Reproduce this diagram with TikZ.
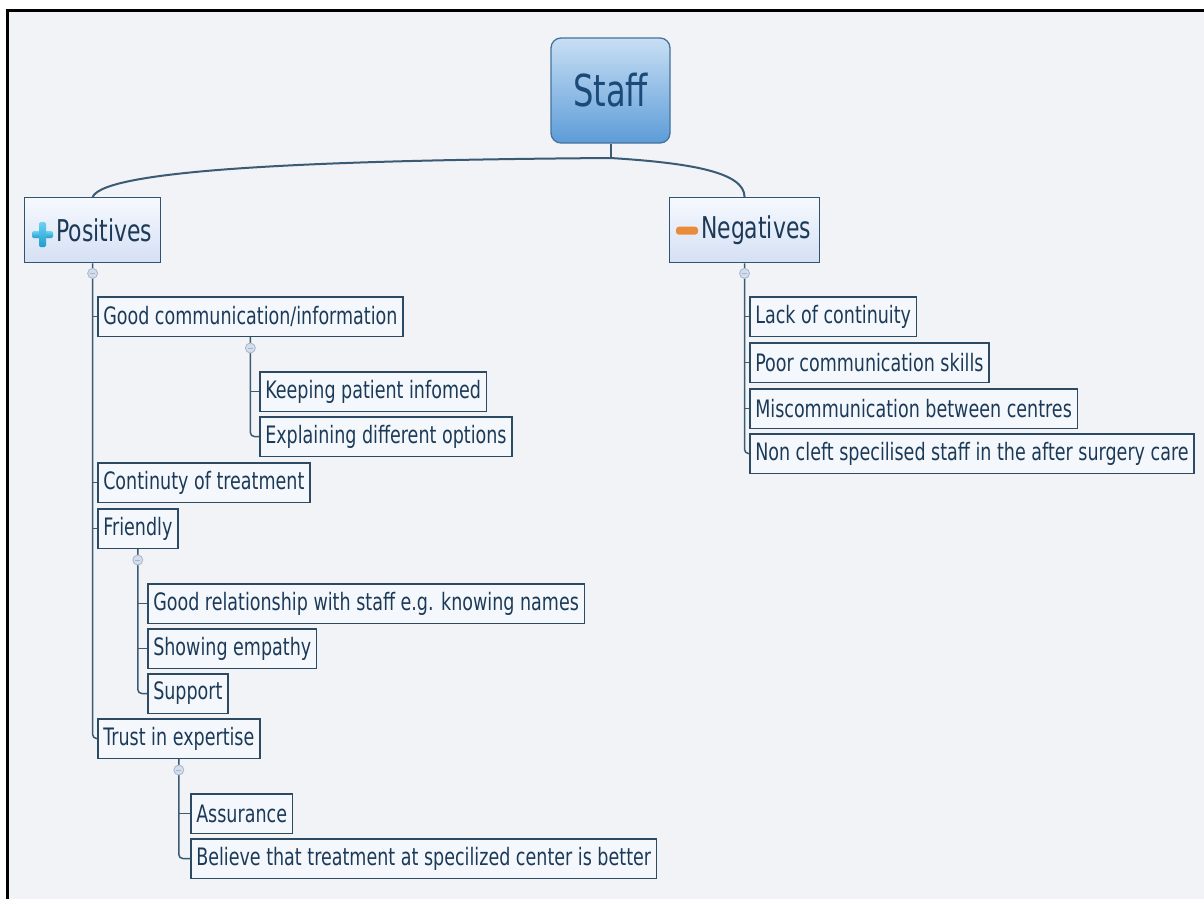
\documentclass[tikz,border=0pt]{standalone}
\usepackage{fontspec}
\setmainfont{DejaVu Sans}[FakeStretch=0.73]
\usetikzlibrary{calc}
\definecolor{bg}{HTML}{F1F3F7}
\definecolor{leaffill}{HTML}{F4F8FC}
\definecolor{leafborder}{HTML}{2E4A62}
\definecolor{txt}{HTML}{1C3A58}
\definecolor{hdrtop}{HTML}{F6F9FE}
\definecolor{hdrbot}{HTML}{D5E0F4}
\definecolor{hdrborder}{HTML}{2F5470}
\definecolor{roottop}{HTML}{C8DFF4}
\definecolor{rootbot}{HTML}{5D9CD8}
\definecolor{rootborder}{HTML}{45729F}
\definecolor{roottxt}{HTML}{1C4A78}
\definecolor{connc}{HTML}{3B5A74}
\definecolor{dotfill}{HTML}{D3DDEB}
\definecolor{dotborder}{HTML}{A6B6CE}
\definecolor{plustop}{HTML}{6CD2F2}
\definecolor{plusbot}{HTML}{1F9CCD}
\definecolor{minusc}{HTML}{EA8B3B}
\tikzset{
  leaf/.style={draw=leafborder, line width=1.5pt, fill=leaffill, text=txt, anchor=north west,
    minimum height=39.5pt, inner xsep=5.5pt, inner ysep=0pt, font=\fontsize{24}{28}\selectfont},
  header/.style={draw=hdrborder, line width=1.4pt, top color=hdrtop, bottom color=hdrbot, text=txt,
    anchor=north west, minimum height=65pt, inner xsep=8.5pt, inner ysep=0pt, font=\fontsize{30}{34}\selectfont},
  root/.style={draw=rootborder, line width=1.3pt, rounded corners=10pt, top color=roottop,
    bottom color=rootbot, text=roottxt, minimum width=119pt, minimum height=105pt, inner sep=0pt,
    font=\fontsize{44}{50}\selectfont},
  conn/.style={draw=connc, line width=1.5pt, rounded corners=4pt},
  tick/.style={draw=connc, line width=1.5pt},
  trunk/.style={draw=connc, line width=2pt},
  cdot/.style={circle, minimum size=10pt, inner sep=0pt, fill=dotfill, draw=dotborder, line width=0.8pt,
    path picture={\draw[dotborder, line width=0.8pt] ([xshift=2.5pt]path picture bounding box.west) -- ([xshift=-2.5pt]path picture bounding box.east);}},
}
\begin{document}
\begin{tikzpicture}[x=1pt, y=-1pt]
\useasboundingbox (0,0) rectangle (1204,899);
\fill[white] (0,0) rectangle (1204,899);
\fill[bg] (7.5,11) rectangle (1204,899);
\draw[line width=3pt] (7.5,899) -- (7.5,11) -- (1204,11);

% root
\node[root] (staff) at (610.5,90.5) {Staff};
\coordinate (fork) at (610.5,158);

% headers
\node[header] (pos) at (24,197) {\hspace*{23pt}Positives};
\node[header] (neg) at (669,197) {\hspace*{23pt}Negatives};

% icons
\shade[top color=plustop, bottom color=plusbot, rounded corners=1.5pt] ($(pos.west)+(8,1)$) rectangle ++(21,7);
\shade[top color=plustop, bottom color=plusbot, rounded corners=1.5pt] ($(pos.west)+(15,-8)$) rectangle ++(7,25);
\fill[minusc, rounded corners=3pt] ($(neg.west)+(7,-3.5)$) rectangle ++(22,8);

% positive leaves
\node[leaf] (gc) at (97,296) {Good communication/information};
\node[leaf] (kp) at (259,371) {Keeping patient infomed};
\node[leaf] (ed) at (259,416) {Explaining different options};
\node[leaf] (ct) at (97,462) {Continuty of treatment};
\node[leaf] (fr) at (97,508) {Friendly};
\node[leaf] (gr) at (147,583) {Good relationship with staff e.g. knowing names};
\node[leaf] (se) at (147,628) {Showing empathy};
\node[leaf] (su) at (147,673) {Support};
\node[leaf] (te) at (97,718) {Trust in expertise};
\node[leaf] (as) at (190,793) {Assurance};
\node[leaf] (bt) at (190,838) {Believe that treatment at specilized center is better};

% negative leaves
\node[leaf] (lc) at (749,296) {Lack of continuity};
\node[leaf] (pc) at (749,342) {Poor communication skills};
\node[leaf] (mc) at (749,388) {Miscommunication between centres};
\node[leaf] (nc) at (749,433) {Non cleft specilised staff in the after surgery care};

% trunk connectors
\draw[trunk] (staff.south) -- (fork);
\draw[trunk] (fork) .. controls (340,160) and (105,168) .. (pos.north);
\draw[trunk] (fork) .. controls (690,163) and (744.5,172) .. (neg.north);

% branch connectors: spine with rounded end to last child, straight ticks to the others
\draw[conn] (pos.south) |- (te.west);
\foreach \c in {gc,ct,fr} \draw[tick] (pos.south |- \c.west) -- (\c.west);
\draw[conn] (gc.south) |- (ed.west);
\draw[tick] (gc.south |- kp.west) -- (kp.west);
\draw[conn] (fr.south) |- (su.west);
\foreach \c in {gr,se} \draw[tick] (fr.south |- \c.west) -- (\c.west);
\draw[conn] (te.south) |- (bt.west);
\draw[tick] (te.south |- as.west) -- (as.west);
\draw[conn] (neg.south) |- (nc.west);
\foreach \c in {lc,pc,mc} \draw[tick] (neg.south |- \c.west) -- (\c.west);

% collapse markers
\node[cdot] (posd) at ([yshift=-10pt]pos.south) {};
\node[cdot] (negd) at ([yshift=-10pt]neg.south) {};
\node[cdot] (gcd) at ([yshift=-11pt]gc.south) {};
\node[cdot] (frd) at ([yshift=-11pt]fr.south) {};
\node[cdot] (ted) at ([yshift=-11pt]te.south) {};
\end{tikzpicture}
\end{document}
